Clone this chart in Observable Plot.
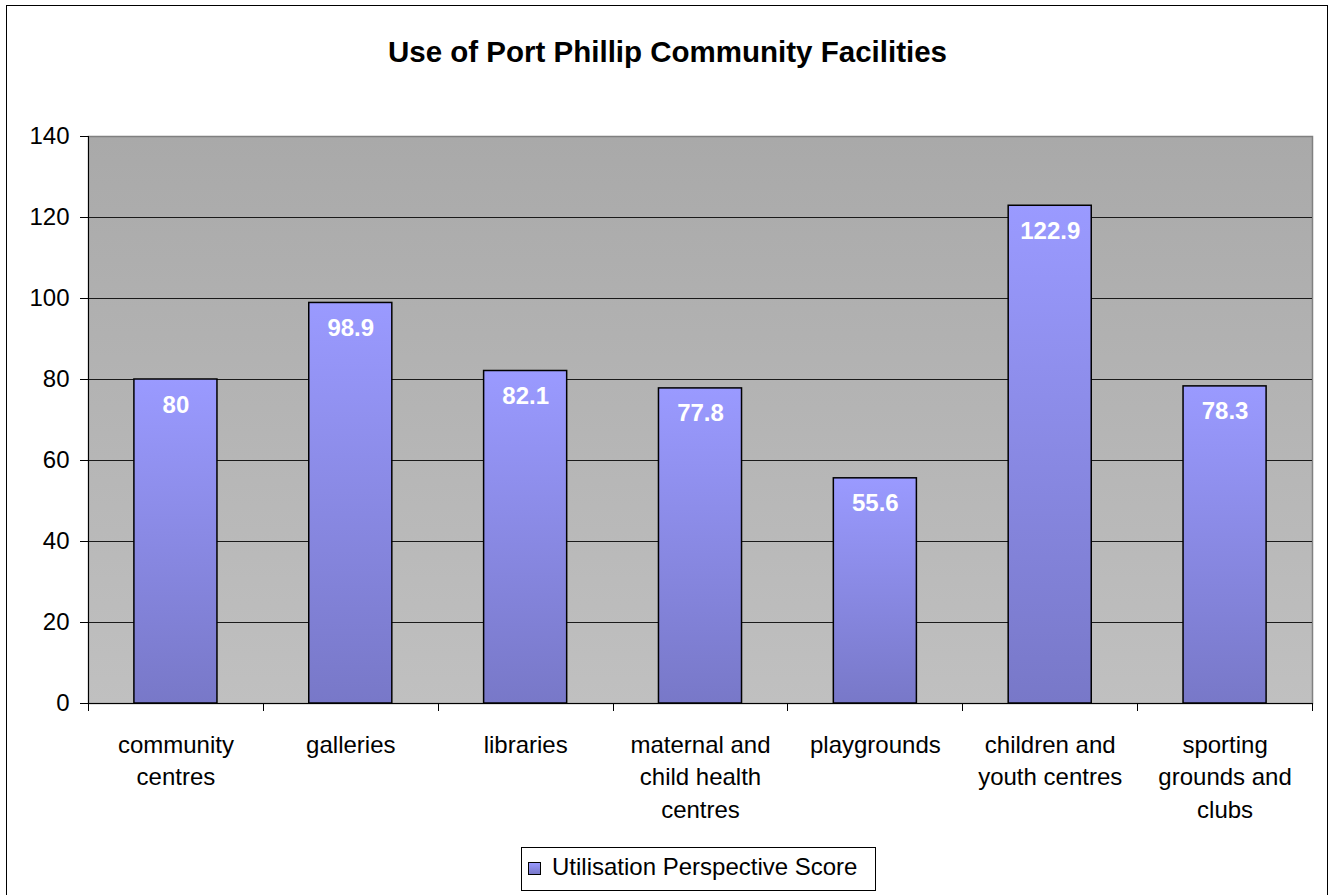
<!DOCTYPE html>
<html>
<head>
<meta charset="utf-8">
<script src="https://cdn.jsdelivr.net/npm/d3@7"></script>
<script src="https://cdn.jsdelivr.net/npm/@observablehq/plot@0.6"></script>
<style>
  html, body { margin: 0; padding: 0; background: #fff; }
  body { width: 1330px; height: 895px; position: relative; overflow: hidden; font-family: "Liberation Sans", Arial, sans-serif; }
  #border { position: absolute; left: 6px; top: 5px; width: 1322px; height: 900px; border: 1px solid #000; box-sizing: border-box; }
  #title { position: absolute; left: 0; top: 37px; width: 1335px; text-align: center; font-size: 29.5px; line-height: 29.5px; font-weight: bold; color: #000; }
  #chart { position: absolute; left: 0; top: 100px; }
  #legend { position: absolute; left: 521px; top: 847px; width: 355px; height: 44px; border: 1px solid #000; box-sizing: border-box; background: #fff; }
  #legend .sw { position: absolute; left: 6px; top: 14px; width: 13px; height: 13px; border: 1px solid #000; box-sizing: border-box; background: linear-gradient(#9999ff, #7878c8); }
  #legend .lbl { position: absolute; left: 30px; top: 7px; font-size: 24px; line-height: 24px; white-space: nowrap; color: #000; }
</style>
</head>
<body>
<div id="border"></div>
<div id="title">Use of Port Phillip Community Facilities</div>
<div id="chart"></div>
<div id="legend"><div class="sw"></div><div class="lbl">Utilisation Perspective Score</div></div>
<script>
const categories = ["community centres", "galleries", "libraries", "maternal and child health centres", "playgrounds", "children and youth centres", "sporting grounds and clubs"];
const xLabels = ["community\ncentres", "galleries", "libraries", "maternal and\nchild health\ncentres", "playgrounds", "children and\nyouth centres", "sporting\ngrounds and\nclubs"];
const scores = [80, 98.9, 82.1, 77.8, 55.6, 122.9, 78.3];
const yTicks = [0, 20, 40, 60, 80, 100, 120, 140];
const seriesName = "Utilisation Perspective Score";

const data = categories.map((c, i) => ({category: c, score: scores[i]}));

const W = 1330, H = 730;

const defs = () => {
  const d = d3.create("svg:defs");
  const bg = d.append("linearGradient").attr("id", "bgGrad").attr("x1", 0).attr("y1", 0).attr("x2", 0).attr("y2", 1);
  bg.append("stop").attr("offset", "0%").attr("stop-color", "#a9a9a9");
  bg.append("stop").attr("offset", "100%").attr("stop-color", "#c0c0c0");
  const bar = d.append("linearGradient").attr("id", "barGrad").attr("x1", 0).attr("y1", 0).attr("x2", 0).attr("y2", 1);
  bar.append("stop").attr("offset", "0%").attr("stop-color", "#9a9aff");
  bar.append("stop").attr("offset", "100%").attr("stop-color", "#7878c8");
  return d.node();
};

const axisLines = (index, scales, values, dims) => {
  const {width, height, marginLeft, marginRight, marginTop, marginBottom} = dims;
  const x0 = marginLeft, x1 = width - marginRight, y0 = height - marginBottom, yT = marginTop;
  const g = d3.create("svg:g").attr("fill", "none");
  const n = categories.length;
  const step = (x1 - x0) / n;
  for (let i = 0; i <= n; i++) {
    const xx = Math.round(x0 + i * step) + 0.5;
    g.append("line").attr("x1", xx).attr("x2", xx).attr("y1", y0).attr("y2", y0 + 8).attr("stroke", "#000");
  }
  g.append("line").attr("x1", x0 + 0.5).attr("x2", x0 + 0.5).attr("y1", yT).attr("y2", y0).attr("stroke", "#000");
  g.append("line").attr("x1", x0).attr("x2", x1).attr("y1", y0 + 0.5).attr("y2", y0 + 0.5).attr("stroke", "#000");
  return g.node();
};

const chart = Plot.plot({
  width: W,
  height: H,
  marginLeft: 88,
  marginRight: 18,
  marginTop: 36,
  marginBottom: 127,
  style: {fontFamily: "'Liberation Sans', Arial, sans-serif", fontSize: "24px", color: "#000", background: "transparent", overflow: "visible"},
  x: {domain: categories, paddingInner: 0.525, paddingOuter: 0.2625, round: false, axis: null},
  y: {domain: [0, 140], axis: null},
  marks: [
    defs,
    Plot.frame({fill: "url(#bgGrad)", stroke: "#808080", strokeWidth: 1.5}),
    Plot.ruleY(yTicks.filter(d => d > 0 && d < 140), {stroke: "#1a1a1a", strokeWidth: 1}),
    Plot.axisY(yTicks, {tickSize: 8, tickPadding: 11, fontSize: 24, stroke: "#000", label: null}),
    Plot.barY(data, {x: "category", y: "score", fill: "url(#barGrad)", stroke: "#000", strokeWidth: 1.5}),
    Plot.text(data, {x: "category", y: "score", text: d => String(d.score), lineAnchor: "bottom", dy: 33, fill: "#fff", fontWeight: "bold", fontSize: 24}),
    axisLines,
    Plot.text(categories, {x: d => d, frameAnchor: "bottom", text: (d, i) => xLabels[i], lineAnchor: "top", dy: 27, lineHeight: 1.34, fontSize: 24, fill: "#000"})
  ]
});

document.getElementById("chart").appendChild(chart);
</script>
</body>
</html>
